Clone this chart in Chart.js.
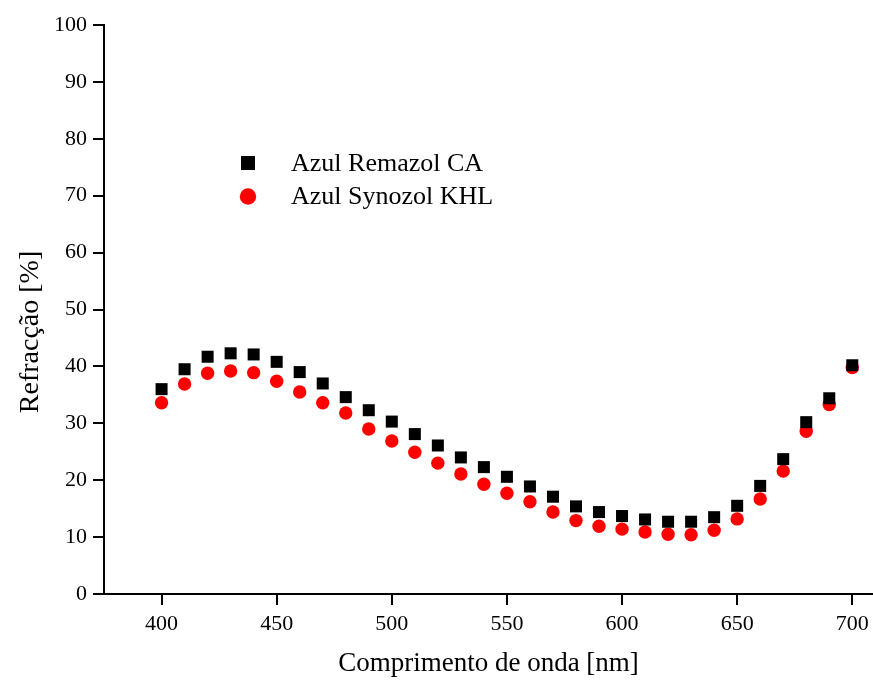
<!DOCTYPE html>
<html>
<head>
<meta charset="utf-8">
<script src="https://cdn.jsdelivr.net/npm/chart.js@4/dist/chart.umd.min.js"></script>
<style>
  html, body { margin: 0; padding: 0; background: #fff; }
  #wrap { width: 873px; height: 681px; }
</style>
</head>
<body>
<div id="wrap"><canvas id="myChart" width="873" height="681"></canvas></div>
<script>
const wavelengths = [400, 410, 420, 430, 440, 450, 460, 470, 480, 490, 500, 510, 520, 530, 540, 550,
  560, 570, 580, 590, 600, 610, 620, 630, 640, 650, 660, 670, 680, 690, 700];
const remazolCA = [36.0, 39.5, 41.7, 42.3, 42.1, 40.8, 39.0, 37.0, 34.6, 32.3, 30.3, 28.1, 26.1, 24.0, 22.3, 20.6,
  18.9, 17.1, 15.4, 14.4, 13.7, 13.1, 12.7, 12.7, 13.5, 15.5, 19.0, 23.7, 30.2, 34.4, 40.2];
const synozolKHL = [33.6, 36.9, 38.8, 39.2, 38.9, 37.4, 35.5, 33.6, 31.8, 29.0, 26.9, 24.9, 23.0, 21.1, 19.3, 17.7,
  16.2, 14.4, 12.9, 11.9, 11.4, 10.9, 10.5, 10.4, 11.2, 13.2, 16.7, 21.6, 28.6, 33.3, 39.8];
const xTicks = [400, 450, 500, 550, 600, 650, 700];
const yTicks = [0, 10, 20, 30, 40, 50, 60, 70, 80, 90, 100];
const seriesNames = ['Azul Remazol CA', 'Azul Synozol KHL'];
const yTitle = 'Refracção [%]';
const xTitle = 'Comprimento de onda [nm]';

const serif = 'Liberation Serif, Times New Roman, serif';
const legendRadius = [9.9, 8.2];

// legend drawn inside the plot, like the original figure,
// plus the y title which sits a bit below the middle of the axis
const extras = {
  id: 'extras',
  afterDatasetsDraw(chart) {
    const ctx = chart.ctx;
    ctx.save();
    ctx.font = '26px ' + serif;
    ctx.textBaseline = 'middle';
    chart.data.datasets.forEach((ds, i) => {
      const y = 163 + i * 33.5;
      ctx.fillStyle = ds.backgroundColor;
      Chart.helpers.drawPoint(ctx, {
        pointStyle: ds.pointStyle,
        radius: legendRadius[i],
        rotation: 0,
        borderWidth: 0
      }, 248, y);
      ctx.fillStyle = '#000';
      ctx.fillText(ds.label, 291, y + 1);
    });
    ctx.restore();

    ctx.save();
    ctx.font = '28px ' + serif;
    ctx.fillStyle = '#000';
    ctx.textAlign = 'center';
    ctx.textBaseline = 'alphabetic';
    ctx.translate(38, 332);
    ctx.rotate(-Math.PI / 2);
    ctx.fillText(yTitle, 0, 0);
    ctx.restore();
  }
};

new Chart(document.getElementById('myChart').getContext('2d'), {
  type: 'scatter',
  data: {
    datasets: [
      {
        label: seriesNames[0],
        data: wavelengths.map((x, i) => ({ x: x, y: remazolCA[i] })),
        pointStyle: 'rect',
        pointRadius: 8.5,
        backgroundColor: '#000000',
        borderWidth: 0
      },
      {
        label: seriesNames[1],
        data: wavelengths.map((x, i) => ({ x: x, y: synozolKHL[i] })),
        pointStyle: 'circle',
        pointRadius: 6.7,
        backgroundColor: '#ff0000',
        borderWidth: 0
      }
    ]
  },
  options: {
    responsive: false,
    animation: false,
    layout: { autoPadding: false, padding: { top: 25, right: 0, left: 0, bottom: 0 } },
    plugins: { legend: { display: false }, tooltip: { enabled: false } },
    scales: {
      x: {
        type: 'linear',
        min: 375,
        max: 709,
        afterBuildTicks: (s) => { s.ticks = xTicks.map(v => ({ value: v })); },
        afterFit: (s) => { s.height = 87; s.paddingLeft = 0; s.paddingRight = 0; },
        border: { color: '#000', width: 2 },
        grid: { drawOnChartArea: false, tickLength: 11, color: '#000', lineWidth: 2 },
        ticks: { color: '#000', font: { family: serif, size: 22 }, padding: 6, maxRotation: 0 },
        title: { display: true, text: xTitle, color: '#000',
          font: { family: serif, size: 27 }, padding: { top: 0, bottom: 1 } }
      },
      y: {
        min: 0,
        max: 100,
        afterBuildTicks: (s) => { s.ticks = yTicks.map(v => ({ value: v })); },
        afterFit: (s) => { s.width = 104; s.paddingTop = 0; s.paddingBottom = 0; },
        border: { color: '#000', width: 2 },
        grid: { drawOnChartArea: false, tickLength: 11, color: '#000', lineWidth: 2 },
        ticks: { color: '#000', font: { family: serif, size: 22 }, padding: 6 },
        title: { display: false }
      }
    }
  },
  plugins: [extras]
});
</script>
</body>
</html>
